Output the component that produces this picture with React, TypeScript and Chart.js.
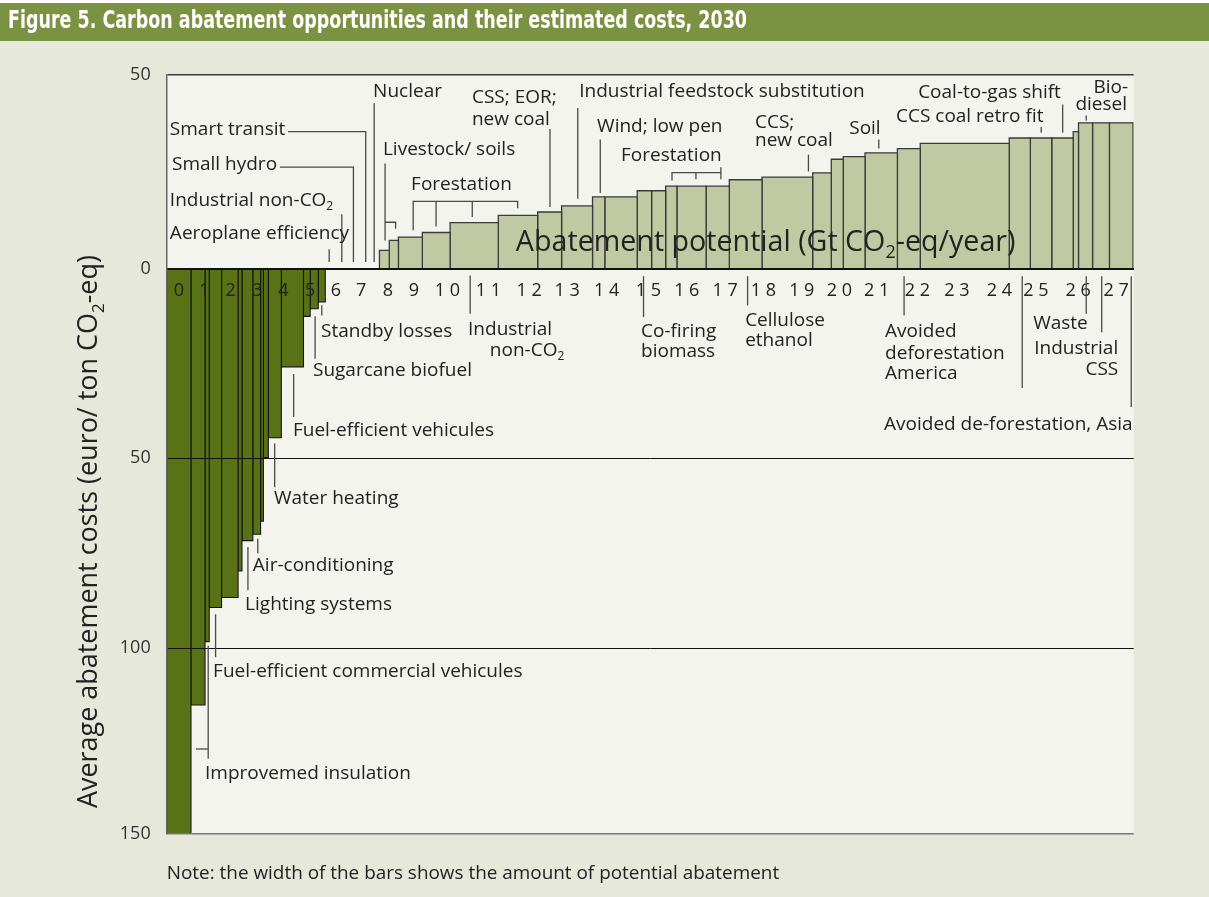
import React, { useEffect, useRef } from 'react';
import { Chart, registerables } from 'chart.js';

Chart.register(...registerables);

const TITLE = 'Figure 5. Carbon abatement opportunities and their estimated costs, 2030';
const Y_TITLE = 'Average abatement costs (euro/ ton CO_2-eq)';
const X_TITLE = 'Abatement potential (Gt CO_2-eq/year)';
const NOTE = 'Note: the width of the bars shows the amount of potential abatement';

// Abatement potential of each opportunity, left to right (Gt CO2-eq / year)
const POTENTIAL = [
  0.69, 0.40, 0.12, 0.35, 0.47, 0.11, 0.31, 0.22, 0.08, 0.14, 0.37, 0.63, 0.19, 0.23, 0.20,
  0.24, 0.37, 0.37, 0.28, 0.28,
  0.28, 0.26, 0.68, 0.79, 1.37, 1.12, 0.68, 0.88, 0.35, 0.92, 0.41, 0.40, 0.32, 0.83, 0.66,
  0.93, 1.44, 0.53, 0.34, 0.62, 0.92, 0.65, 2.53, 0.60, 0.61, 0.61, 0.15, 0.40, 0.48, 0.67,
];

// Average abatement cost of each opportunity (euro / ton CO2-eq)
const COST = [
  -149, -115, -98.3, -89.3, -86.7, -79.7, -71.7, -70, -66.6, -49.8, -44.6, -25.9, -12.6, -10.6, -8.8,
  0, 0, 0, 0, 0,
  4.8, 7.4, 8.3, 9.5, 12.1, 14.0, 14.9, 16.5, 18.9, 18.9, 20.5, 20.5, 21.7, 21.7, 21.7,
  23.4, 24.1, 25.2, 28.8, 29.5, 30.5, 31.6, 33.0, 34.4, 34.4, 34.4, 36.1, 38.4, 38.4, 38.4,
];

const TICK_POSITIONS = [
  0.35, 1.07, 1.82, 2.58, 3.32, 4.08, 4.81, 5.53, 6.29, 7.03, 7.98, 9.15, 10.31, 11.39,
  12.51, 13.70, 14.79, 15.88, 16.97, 18.06, 19.13, 20.19, 21.35, 22.47, 23.68, 24.72, 25.92, 27.0,
];
const TICK_LABELS = [
  '0', '1', '2', '3', '4', '5', '6', '7', '8', '9', '1 0', '1 1', '1 2', '1 3',
  '1 4', '1 5', '1 6', '1 7', '1 8', '1 9', '2 0', '2 1', '2 2', '2 3', '2 4', '2 5', '2 6', '2 7',
];
const Y_TICKS = [51, 0, -50, -100, -149];

// Annotation labels: text, x (Gt), y (cost), alignment
type Lbl = [string, number, number, string?];
const LABELS: Lbl[] = [
  ['Nuclear', 5.87, 46.7],
  ['Smart transit', 0.09, 36.7],
  ['Small hydro', 0.15, 27.4],
  ['Industrial non-CO_2', 0.09, 18.0],
  ['Aeroplane efficiency', 0.09, 9.3],
  ['Livestock/ soils', 6.15, 31.4],
  ['Forestation', 6.95, 22.2],
  ['CSS; EOR;', 8.68, 45.1],
  ['new coal', 8.68, 39.3],
  ['Industrial feedstock substitution', 11.73, 46.7],
  ['Wind; low pen', 12.24, 37.4],
  ['Forestation', 12.92, 29.8],
  ['CCS;', 16.73, 38.5],
  ['new coal', 16.73, 33.8],
  ['Soil', 19.41, 36.9],
  ['Coal-to-gas shift', 21.37, 46.4],
  ['CCS coal retro fit', 20.74, 40.1],
  ['Bio-', 27.34, 47.7, 'right'],
  ['diesel', 27.31, 43.2, 'right'],
  ['Standby losses', 4.39, -16.5],
  ['Sugarcane biofuel', 4.16, -26.8],
  ['Fuel-efficient vehicules', 3.59, -42.8],
  ['Water heating', 3.05, -60.7],
  ['Air-conditioning', 2.45, -78.3],
  ['Lighting systems', 2.23, -88.6],
  ['Fuel-efficient commercial vehicules', 1.32, -106.2],
  ['Improvemed insulation', 1.09, -133.1],
  ['Industrial', 8.57, -16.0],
  ['non-CO_2', 9.19, -21.5],
  ['Co-firing', 13.49, -16.5],
  ['biomass', 13.49, -22.0],
  ['Cellulose', 16.45, -13.6],
  ['ethanol', 16.45, -19.1],
  ['Avoided', 20.43, -16.5],
  ['deforestation', 20.43, -22.3],
  ['America', 20.43, -27.8],
  ['Waste', 24.64, -14.4],
  ['Industrial', 27.06, -21.2, 'right'],
  ['CSS', 27.06, -26.5, 'right'],
  ['Avoided de-forestation, Asia', 20.40, -41.0],
];

// Leader lines (polylines in Gt / cost units)
const LEADERS: number[][][] = [
  [[5.90, 43.6], [5.90, 1.7]],
  [[3.45, 36.1], [5.66, 36.1], [5.66, 1.7]],
  [[3.22, 26.7], [5.31, 26.7], [5.31, 1.7]],
  [[4.98, 14.3], [4.98, 1.7]],
  [[4.62, 5.1], [4.62, 1.7]],
  [[6.21, 27.7], [6.21, 7.4]],
  [[6.21, 12.2], [6.51, 12.2], [6.51, 10.5]],
  [[7.01, 10.1], [7.01, 17.7], [9.98, 17.7], [9.98, 15.9]],
  [[7.66, 17.7], [7.66, 11.1]],
  [[8.69, 17.7], [8.69, 13.6]],
  [[10.90, 36.8], [10.90, 16.2]],
  [[11.69, 42.3], [11.69, 18.4]],
  [[12.33, 34.0], [12.33, 19.9]],
  [[14.37, 23.2], [14.37, 25.3], [15.76, 25.3]],
  [[15.05, 25.3], [15.05, 23.5]],
  [[15.76, 26.7], [15.76, 23.5]],
  [[18.25, 30.0], [18.25, 25.6]],
  [[20.25, 34.0], [20.25, 31.6]],
  [[24.87, 37.3], [24.87, 35.8]],
  [[25.48, 43.2], [25.48, 35.8]],
  [[26.15, 40.3], [26.15, 39.0]],
  [[4.41, -9.7], [4.41, -12.4]],
  [[4.22, -12.6], [4.22, -23.8]],
  [[3.61, -27.8], [3.61, -39.1]],
  [[3.07, -46.1], [3.07, -57.6]],
  [[2.59, -71.2], [2.59, -75.0]],
  [[2.31, -73.4], [2.31, -84.8]],
  [[1.39, -91.1], [1.39, -102.4]],
  [[1.18, -99.4], [1.18, -129.2]],
  [[0.83, -126.6], [1.18, -126.6]],
  [[8.63, -1.8], [8.63, -11.9]],
  [[13.56, -2.0], [13.56, -12.8]],
  [[16.52, -2.0], [16.52, -9.7]],
  [[20.97, -2.0], [20.97, -12.4]],
  [[24.33, -2.0], [24.33, -31.5]],
  [[26.15, -2.0], [26.15, -11.9]],
  [[26.59, -2.0], [26.59, -16.8]],
  [[27.43, -2.0], [27.43, -36.5]],
];

const FONT = '"Open Sans", "Noto Sans", sans-serif';
const NEG_FILL = '#5a7216';
const POS_FILL = '#c0c9a1';

function richParts(text: string) {
  return text.split(/_(\d)/);
}
function richWidth(ctx: CanvasRenderingContext2D, text: string, size: number) {
  let w = 0;
  richParts(text).forEach((p, i) => {
    ctx.font = `${i % 2 ? Math.round(size * 0.62) : size}px ${FONT}`;
    w += ctx.measureText(p).width;
  });
  return w;
}
function drawRich(ctx: CanvasRenderingContext2D, text: string, x: number, y: number, size: number, align = 'left') {
  const total = richWidth(ctx, text, size);
  let cx = align === 'right' ? x - total : align === 'center' ? x - total / 2 : x;
  ctx.textAlign = 'left';
  ctx.textBaseline = 'middle';
  richParts(text).forEach((p, i) => {
    const sub = i % 2 === 1;
    ctx.font = `${sub ? Math.round(size * 0.62) : size}px ${FONT}`;
    ctx.fillText(p, cx, y + (sub ? size * 0.34 : 0));
    cx += ctx.measureText(p).width;
  });
}

const backgroundPlugin = {
  id: 'figureBackground',
  beforeDraw(chart: any) {
    const ctx: CanvasRenderingContext2D = chart.ctx;
    const { width, height } = chart;
    const a = chart.chartArea;
    ctx.save();
    ctx.fillStyle = '#e5e8da';
    ctx.fillRect(0, 0, width, height);
    ctx.fillStyle = '#ffffff';
    ctx.fillRect(0, 0, width, 3);
    ctx.fillStyle = '#7b9242';
    ctx.fillRect(0, 3, width, 38);
    ctx.font = `bold 24px "Liberation Sans Narrow", "DejaVu Sans Condensed", "Liberation Sans", sans-serif`;
    const tw = ctx.measureText(TITLE).width;
    ctx.fillStyle = '#ffffff';
    ctx.textAlign = 'left';
    ctx.textBaseline = 'middle';
    ctx.translate(8, 22);
    ctx.scale(739 / tw, 1);
    ctx.fillText(TITLE, 0, 0);
    ctx.restore();
    ctx.save();
    ctx.fillStyle = '#f3f4ee';
    ctx.fillRect(a.left, a.top, a.right - a.left, a.bottom - a.top);
    ctx.restore();
  },
};

const annotationPlugin = {
  id: 'annotations',
  afterDraw(chart: any) {
    const ctx: CanvasRenderingContext2D = chart.ctx;
    const xs = chart.scales.x;
    const ys = chart.scales.y;
    const a = chart.chartArea;
    ctx.save();
    // leader lines
    ctx.strokeStyle = '#4a4a4a';
    ctx.lineWidth = 1.3;
    LEADERS.forEach((pts) => {
      ctx.beginPath();
      pts.forEach(([x, y], i) => {
        const px = xs.getPixelForValue(x);
        const py = ys.getPixelForValue(y);
        if (i === 0) ctx.moveTo(px, py);
        else ctx.lineTo(px, py);
      });
      ctx.stroke();
    });
    // labels
    ctx.fillStyle = '#222222';
    LABELS.forEach(([t, x, y, al]) => {
      drawRich(ctx, t, xs.getPixelForValue(x), ys.getPixelForValue(y), 19, al || 'left');
    });
    // axis title inside the plot (x)
    const xw = richWidth(ctx, X_TITLE, 30);
    const xSize = 30 * 500 / xw;
    drawRich(ctx, X_TITLE, xs.getPixelForValue(9.93), ys.getPixelForValue(6.66), xSize, 'left');
    // y axis title (rotated)
    const yw = richWidth(ctx, Y_TITLE, 26);
    const ySize = 26 * 553 / yw;
    ctx.save();
    ctx.translate(a.left - 77, a.bottom - 26);
    ctx.rotate(-Math.PI / 2);
    drawRich(ctx, Y_TITLE, 0, 0, ySize, 'left');
    ctx.restore();
    // note
    const nw = richWidth(ctx, NOTE, 17);
    drawRich(ctx, NOTE, a.left, a.bottom + 40, 17 * 613 / nw, 'left');
    ctx.restore();
  },
};

function buildDatasets() {
  const datasets: any[] = [];
  let x0 = 0;
  POTENTIAL.forEach((w, i) => {
    const c = COST[i];
    const x1 = x0 + w;
    if (c !== 0) {
      datasets.push({
        data: [
          { x: x0, y: 0 },
          { x: x0, y: c },
          { x: x1, y: c },
          { x: x1, y: 0 },
        ],
        fill: 'origin',
        backgroundColor: c < 0 ? NEG_FILL : POS_FILL,
        borderColor: c < 0 ? '#151515' : '#3a3a3a',
        borderWidth: c < 0 ? 1.1 : 1.3,
        borderJoinStyle: 'miter',
        pointRadius: 0,
        tension: 0,
      });
    }
    x0 = x1;
  });
  return datasets;
}

export default function App() {
  const ref = useRef<HTMLCanvasElement>(null);
  useEffect(() => {
    const canvas = ref.current;
    if (!canvas) return;
    const chart = new Chart(canvas, {
      type: 'line',
      data: { datasets: buildDatasets() },
      options: {
        animation: false,
        responsive: true,
        maintainAspectRatio: false,
        events: [],
        layout: { padding: { top: 75, right: 75.3, bottom: 63, left: 0 } },
        plugins: {
          legend: { display: false },
          tooltip: { enabled: false },
        },
        scales: {
          x: {
            type: 'linear',
            min: 0,
            max: 27.5,
            position: { y: 0 } as any,
            grid: { display: false, drawTicks: false },
            border: { display: true, color: '#111111', width: 2, z: 1 },
            ticks: {
              z: 1,
              autoSkip: false,
              maxRotation: 0,
              padding: 12,
              color: '#222222',
              font: { family: FONT, size: 18 },
              callback: (_v: any, i: number) => TICK_LABELS[i],
            },
            afterBuildTicks: (s: any) => {
              s.ticks = TICK_POSITIONS.map((v) => ({ value: v }));
            },
            afterFit: (s: any) => {
              s.height = 0;
            },
          },
          y: {
            type: 'linear',
            min: -149,
            max: 51,
            position: 'left',
            grid: {
              z: 1,
              drawTicks: false,
              color: (c: any) => {
                const v = c.tick ? c.tick.value : 0;
                if (v === 0) return 'rgba(0,0,0,0)';
                if (v > 0) return '#3a3a3a';
                if (v < -120) return '#777777';
                return '#111111';
              },
              lineWidth: (c: any) => {
                const v = c.tick ? c.tick.value : 0;
                if (v > 0) return 1.6;
                if (v < -120) return 1.5;
                return 1;
              },
            },
            border: { display: true, color: '#666666', width: 1.5, z: 1 },
            ticks: {
              padding: 16,
              color: '#333333',
              font: { family: FONT, size: 18 },
              callback: (v: any) => String(Math.round(Math.abs(Number(v)) / 50) * 50),
            },
            afterBuildTicks: (s: any) => {
              s.ticks = Y_TICKS.map((v) => ({ value: v }));
            },
            afterFit: (s: any) => {
              s.width = 166.7;
            },
          },
        },
      } as any,
      plugins: [backgroundPlugin, annotationPlugin],
    });
    return () => chart.destroy();
  }, []);

  return (
    <div style={{ position: 'fixed', left: 0, top: 0, width: 1209, height: 897 }}>
      <canvas ref={ref} />
    </div>
  );
}
